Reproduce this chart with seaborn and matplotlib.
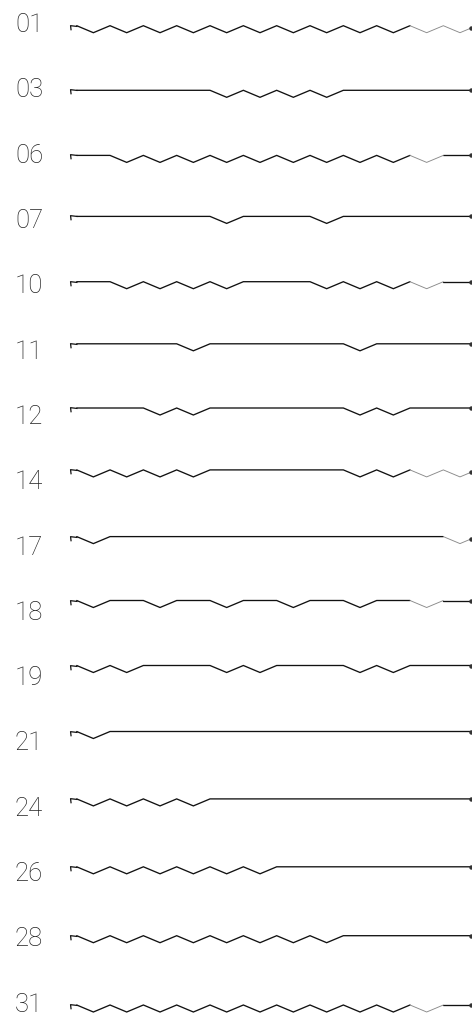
import numpy as np
import pandas as pd
import matplotlib
matplotlib.use("Agg")
import matplotlib.pyplot as plt
from matplotlib.path import Path
import seaborn as sns

# ---- data ---------------------------------------------------------------
days = ["01", "03", "06", "07", "10", "11", "12", "14",
        "17", "18", "19", "21", "24", "26", "28", "31"]
# 12 periods per row: 1 = zigzag (V) period, 0 = flat period
patterns = [
    [1, 1, 1, 1, 1, 1, 1, 1, 1, 1, 1, 1],
    [0, 0, 0, 0, 1, 1, 1, 1, 0, 0, 0, 0],
    [0, 1, 1, 1, 1, 1, 1, 1, 1, 1, 1, 0],
    [0, 0, 0, 0, 1, 0, 0, 1, 0, 0, 0, 0],
    [0, 1, 1, 1, 1, 0, 0, 1, 1, 1, 1, 0],
    [0, 0, 0, 1, 0, 0, 0, 0, 1, 0, 0, 0],
    [0, 0, 1, 1, 0, 0, 0, 0, 1, 1, 0, 0],
    [1, 1, 1, 1, 0, 0, 0, 0, 1, 1, 1, 1],
    [1, 0, 0, 0, 0, 0, 0, 0, 0, 0, 0, 1],
    [1, 0, 1, 0, 1, 0, 1, 0, 1, 0, 1, 0],
    [1, 1, 0, 0, 1, 1, 0, 0, 1, 1, 0, 0],
    [1, 0, 0, 0, 0, 0, 0, 0, 0, 0, 0, 0],
    [1, 1, 1, 1, 0, 0, 0, 0, 0, 0, 0, 0],
    [1, 1, 1, 1, 1, 1, 0, 0, 0, 0, 0, 0],
    [1, 1, 1, 1, 1, 1, 1, 1, 0, 0, 0, 0],
    [1, 1, 1, 1, 1, 1, 1, 1, 1, 1, 1, 0],
]
n_confirmed = 10  # zigzag periods from here on are drawn in grey

# ---- layout / style -----------------------------------------------------
W, H, DPI = 472, 1013, 100
unit_px = 33.33        # width of one period
x0_px = 76.7           # pixel of period 0 start
row_px = 65.3          # row pitch
row0_px = 23.5         # pixel centre of first label
depth_px = 7.0         # depth of each V
# slight vertical drift of each line relative to its label (pixels)
drift_px = [2.2, 1.5, 1.3, -3, -3, -6.2, -7.3, -10.7,
            -9.3, -10.7, -11, -10.3, -8.2, -5.6, -2, 2]

sns.set_theme(style="white")
plt.rcParams["font.family"] = ["Roboto", "DejaVu Sans"]

fig = plt.figure(figsize=(W / DPI, H / DPI), dpi=DPI)
ax = fig.add_axes([0, 0, 1, 1])
xlim = (-x0_px / unit_px, (W - x0_px) / unit_px)
ylim = ((H - row0_px) / row_px, -row0_px / row_px)

depth = depth_px / row_px

rows = []
for i, (lab, pat) in enumerate(zip(days, patterns)):
    base = i + drift_px[i] / row_px
    seg_id, prev_style = 0, None
    for u, v in enumerate(pat):
        style = "future" if (u >= n_confirmed and v) else "main"
        if style != prev_style:
            seg_id += 1
            rows.append(dict(day=lab, seg=f"{lab}-{seg_id}", part=style,
                             x=u, y=base))
            prev_style = style
        rows.append(dict(day=lab, seg=f"{lab}-{seg_id}", part=style,
                         x=u + 0.5, y=base + depth * v))
        rows.append(dict(day=lab, seg=f"{lab}-{seg_id}", part=style,
                         x=u + 1, y=base))
df = pd.DataFrame(rows)

sns.lineplot(data=df, x="x", y="y", units="seg", estimator=None,
             hue="part", palette={"main": "#111111", "future": "#8a8a8a"},
             size="part", sizes={"main": 0.95, "future": 0.65},
             sort=False, legend=False, ax=ax, solid_joinstyle="miter")
ax.set_xlim(*xlim)
ax.set_ylim(*ylim)
ax.axis("off")

hook = Path([(0, 0), (-1, 0.12), (-0.92, -0.55)],
            [Path.MOVETO, Path.LINETO, Path.LINETO])
x_end = xlim[1] - 1.0 / unit_px
for i, lab in enumerate(days):
    seg = df[df.day == lab]
    base = seg.y.iloc[0]
    ax.plot([0], [base], marker=hook, markersize=10, fillstyle="none",
            markeredgecolor="#111111", markeredgewidth=0.9, linestyle="none")
    y_end = np.interp(x_end, seg.x.values, seg.y.values)
    ax.plot([x_end], [y_end], marker="o", markersize=2.2, color="#333333",
            linestyle="none", clip_on=False)
    ax.annotate(lab, xy=(15 / W, i), xycoords=ax.get_yaxis_transform(),
                xytext=(0, -8.6), textcoords="offset pixels",
                ha="left", va="baseline", fontsize=18.5,
                fontweight="light", color="#222222")

fig.savefig("out.png", dpi=DPI)
